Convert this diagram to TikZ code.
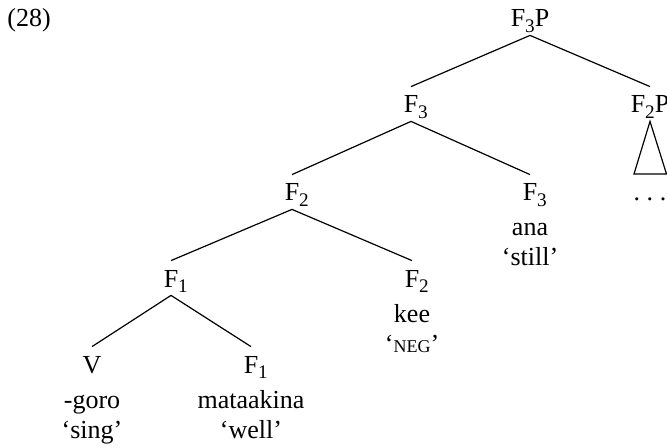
\documentclass[tikz,border=0pt]{standalone}
\usepackage{fontspec}
\setmainfont{Liberation Serif}
% subscript digit, set low as in the category labels
\newcommand\lowdigit[1]{\raisebox{-0.42ex}{\fontsize{9.6}{9.6}\selectfont #1}}
% subscript that does not widen the category label
\newcommand\catsub[1]{\rlap{\lowdigit{#1}}}
\begin{document}
\begin{tikzpicture}[x=0.5pt,y=-0.5pt,
  lab/.style={anchor=base,inner sep=0pt,font=\fontsize{13}{15}\selectfont},
  cat/.style={lab,text height=13pt,text depth=4pt},
  branch/.style={line width=0.6pt}]
\useasboundingbox (0,0) rectangle (667,448);

% example number
\node[lab,anchor=base west] (ex) at (7,27) {(28)};

% categories
\node[cat] (f3p) at (530,27)  {F\lowdigit{3}P};
\node[cat] (f3)  at (411,113) {F\catsub{3}};
\node[cat] (f2p) at (650,113) {F\lowdigit{2}P};
\node[cat] (f2)  at (292,201) {F\catsub{2}};
\node[cat] (f3h) at (530,201) {F\catsub{3}};
\node[cat] (f1)  at (171,287) {F\catsub{1}};
\node[cat] (f2h) at (412,287) {F\catsub{2}};
\node[cat] (v)   at (92,373)  {V};
\node[cat] (f1h) at (251,373) {F\catsub{1}};

% lexical items and glosses
\node[lab] (ana)   at (530,235) {ana};
\node[lab] (still) at (530,265) {‘still’};
\node[lab] (kee)   at (412,322) {kee};
\node[lab] (neg)   at (412,352) {‘{\fontsize{9}{9}\selectfont NEG}’};
\node[lab] (goro)  at (92,408)  {-goro};
\node[lab] (sing)  at (92,438)  {‘sing’};
\node[lab] (mata)  at (251,408) {mataakina};
\node[lab] (well)  at (251,438) {‘well’};

% branches
\draw[branch] (f3p.south) -- (f3.north);
\draw[branch] (f3p.south) -- (f2p.north);
\draw[branch] (f3.south)  -- (f2.north);
\draw[branch] (f3.south)  -- (f3h.north);
\draw[branch] (f2.south)  -- (f1.north);
\draw[branch] (f2.south)  -- (f2h.north);
\draw[branch] (f1.south)  -- (v.north);
\draw[branch] (f1.south)  -- (f1h.north);

% collapsed F2P subtree
\coordinate (tl) at (634,174);
\coordinate (tr) at (666.5,174);
\draw[branch,line join=miter] (f2p.south) -- (tl) -- (tr) -- cycle;
\node[lab] (dots) at (650,201) {.\hspace{3.3pt}.\hspace{3.3pt}.};
\end{tikzpicture}
\end{document}
